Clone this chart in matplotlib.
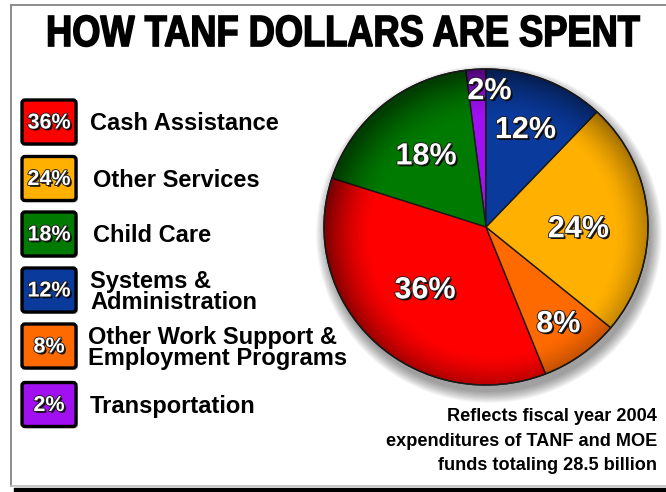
import numpy as np
import matplotlib
matplotlib.use('Agg')
from matplotlib import pyplot as plt
from matplotlib import patheffects as pe
from matplotlib.font_manager import FontProperties
from matplotlib.textpath import TextPath
from matplotlib.transforms import Affine2D
from matplotlib.patches import FancyBboxPatch, Ellipse, Circle, PathPatch

# shares of fiscal year 2004 TANF + MOE spending
categories = ['Cash Assistance', 'Other Services', 'Child Care',
              'Systems &\nAdministration',
              'Other Work Support &\nEmployment Programs', 'Transportation']
shares = [36, 24, 18, 12, 8, 2]
colors = ['#ff0000', '#ffb000', '#007a00', '#0a3a9c', '#ff6a00', '#a010f0']

# slices go counter-clockwise from 12 o'clock in this order
pie_order = [5, 2, 0, 4, 1, 3]
label_dist = [0.86, 0.58, 0.55, 0.76, 0.57, 0.66]
label_shift = [-5, 0, 0, 0, -5, 0]

title = 'HOW TANF DOLLARS ARE SPENT'
note = 'Reflects fiscal year 2004\nexpenditures of TANF and MOE\nfunds totaling 28.5 billion'

W, H = 666, 492
bold = FontProperties(family='Liberation Sans', weight='bold')

fig = plt.figure(figsize=(W / 100, H / 100), dpi=100)
fig.patch.set_facecolor('white')
ax = fig.add_axes([0, 0, 1, 1])
ax.set_xlim(0, W)
ax.set_ylim(H, 0)
ax.axis('off')

# frame with a dark shadow along the bottom
ax.plot([11, 11], [5, 486], color='#8c8c8c', lw=1.4)
ax.plot([11, W], [5, 5], color='#8c8c8c', lw=1.4)
ax.plot([11, W], [486, 486], color='#bdbdbd', lw=1.2)
ax.fill_between([14, W], 488, H, color='black')

# no condensed face installed, so squeeze the title outline by hand
tp = TextPath((0, 0), title, size=1, prop=bold)
ext = tp.get_extents()
sx = 591 / ext.width
sy = 31 / ext.height
tr = Affine2D().translate(-ext.x0, -ext.y0).scale(sx, -sy).translate(48.5, 46.5)
ax.add_patch(PathPatch(tr.transform_path(tp), fc='black', ec='black', lw=1.1))

white_label = [pe.SimplePatchShadow(offset=(1.3, -1.3), shadow_rgbFace='black', alpha=0.9),
               pe.Stroke(linewidth=1.3, foreground='#202020'), pe.Normal()]

# legend boxes on the left
box_y = [122, 178.5, 234, 290, 346, 404.5]
text_x = [90, 93, 93, 90, 88, 90]
for i, (cat, share, col) in enumerate(zip(categories, shares, colors)):
    y = box_y[i]
    shadow = FancyBboxPatch((24, y - 20), 54, 44, boxstyle='round,pad=0,rounding_size=3',
                            fc='#9a9a9a', ec='none', alpha=0.6)
    ax.add_patch(shadow)
    box = FancyBboxPatch((22, y - 22), 54, 44, boxstyle='round,pad=0,rounding_size=3',
                         fc=col, ec='black', lw=2.4)
    ax.add_patch(box)
    ax.text(49, y + 1, f'{share}%', ha='center', va='center', fontsize=15.5,
            fontproperties=bold, color='white', path_effects=white_label)
    ax.text(text_x[i], y + 2, cat, ha='left', va='center', fontsize=17,
            fontproperties=bold, color='black', linespacing=0.85)

ax.text(657, 441, note, ha='right', va='center', fontsize=13.1,
        fontproperties=bold, color='black', linespacing=1.55)

# pie geometry in pixels
cx, cy, rx, ry = 486, 227, 162, 158

# soft shadow under the pie
for k in range(10):
    ax.add_patch(Ellipse((cx + 3, cy + 7), 2 * (rx + k * 1.2), 2 * (ry + k * 1.2),
                         fc='black', ec='none', alpha=0.045, zorder=0))

pad = 1.03
pax = fig.add_axes([(cx - rx * pad) / W, (H - cy - ry * pad) / H,
                    2 * rx * pad / W, 2 * ry * pad / H])
vals = [shares[i] for i in pie_order]
cols = [colors[i] for i in pie_order]
wedges, _ = pax.pie(vals, colors=cols, startangle=90, counterclock=True,
                    wedgeprops=dict(edgecolor='#1a1a1a', linewidth=1.0))
pax.set_aspect('auto')
pax.set_xlim(-pad, pad)
pax.set_ylim(-pad, pad)
pax.axis('off')

# darken towards the rim for a domed look
g = np.linspace(-1, 1, 400)
gx, gy = np.meshgrid(g, g)
r = np.hypot(gx - 0.05, gy + 0.05)
alpha = 0.5 * np.clip((r - 0.74) / 0.3, 0, 1) ** 1.6
rgba = np.zeros((400, 400, 4))
rgba[..., 3] = alpha
img = pax.imshow(rgba, extent=(-1, 1, -1, 1), origin='lower', zorder=3,
                 interpolation='bilinear', aspect='auto')
clip = Circle((0, 0), 1.0, transform=pax.transData)
img.set_clip_path(clip)
pax.add_patch(Circle((0, 0), 1.0, fill=False, ec='#1a1a1a', lw=1.0, zorder=4))

for w, v, d, s in zip(wedges, vals, label_dist, label_shift):
    ang = np.deg2rad((w.theta1 + w.theta2) / 2 + s)
    pax.text(d * np.cos(ang), d * np.sin(ang), f'{v}%', ha='center', va='center',
             fontsize=22, fontproperties=bold, color='white', zorder=5,
             path_effects=white_label)

fig.savefig('out.png', dpi=100)
